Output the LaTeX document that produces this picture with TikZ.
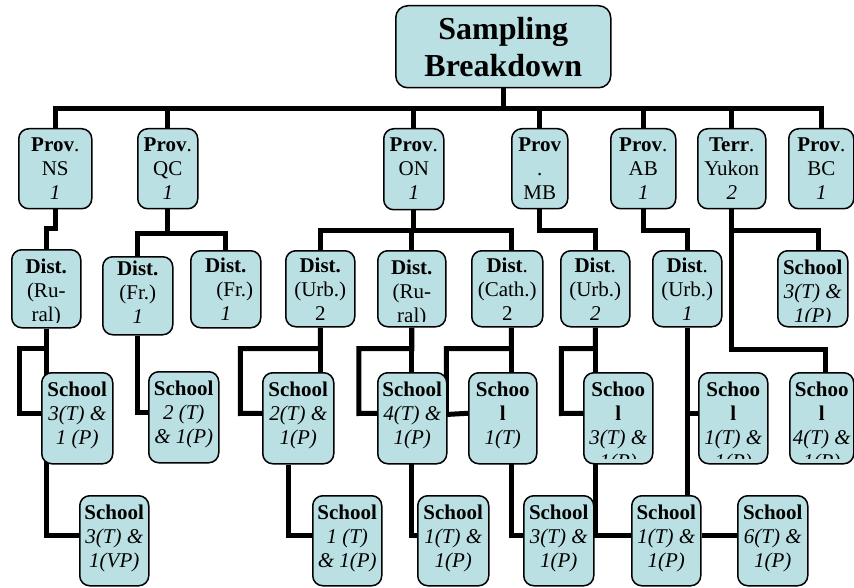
\documentclass[tikz,border=0pt]{standalone}
\usepackage{fontspec}
\setmainfont{Liberation Serif}
\usetikzlibrary{backgrounds}

\definecolor{boxfill}{RGB}{187,224,227}

\tikzset{
  link/.style={line width=5pt},
  boxtext/.style={anchor=base, inner sep=0pt, font=\fontsize{21}{24}\selectfont},
  orgbox/.style 2 args={draw, line width=1.5pt, fill=boxfill, rounded corners=10pt, inner sep=0pt,
    anchor=north west,
    path picture={
      \clip ([yshift=5pt]path picture bounding box.south west) rectangle (path picture bounding box.north east);
      \node[boxtext] at ([yshift=-#1]path picture bounding box.north)
        {\begin{tabular}[t]{@{}c@{}}#2\end{tabular}};}},
  rootbox/.style={draw, line width=1.5pt, fill=boxfill, rounded corners=12pt, inner sep=0pt,
    anchor=north west, align=center, font=\fontsize{32}{37}\selectfont\bfseries}
}

\begin{document}
\begin{tikzpicture}[x=1pt, y=-1pt]
  \useasboundingbox (0,0) rectangle (854,588);

  % top
  \node[rootbox, minimum width=215pt, minimum height=82pt] (root) at (395,5) {Sampling\\Breakdown};

  % provinces
  \node[orgbox={23pt}{\textbf{Prov}.\\NS\\\textit{1}}, minimum width=73pt, minimum height=80pt] (pNS) at (18,128) {};
  \node[orgbox={23pt}{\textbf{Prov}.\\QC\\\textit{1}}, minimum width=60pt, minimum height=80pt] (pQC) at (137,128) {};
  \node[orgbox={23pt}{\textbf{Prov}.\\ON\\\textit{1}}, minimum width=60pt, minimum height=81pt] (pON) at (383,128) {};
  \node[orgbox={23pt}{\textbf{Prov}\\.\\MB}, minimum width=56pt, minimum height=80pt] (pMB) at (511,128) {};
  \node[orgbox={23pt}{\textbf{Prov}.\\AB\\\textit{1}}, minimum width=65pt, minimum height=80pt] (pAB) at (610,128) {};
  \node[orgbox={23pt}{\textbf{Terr}.\\Yukon\\\textit{2}}, minimum width=68pt, minimum height=80pt] (pYK) at (697,128) {};
  \node[orgbox={23pt}{\textbf{Prov}.\\BC\\\textit{1}}, minimum width=65pt, minimum height=80pt] (pBC) at (788,128) {};

  % districts
  \node[orgbox={24pt}{\textbf{Dist.}\\(Ru-\\ral)}, minimum width=69pt, minimum height=78pt] (dNS) at (11,249) {};
  \node[orgbox={19pt}{\textbf{Dist.}\\(Fr.)\\\textit{1}}, minimum width=70pt, minimum height=78pt] (dQCa) at (102,256) {};
  \node[orgbox={22pt}{\textbf{Dist.}\\\hspace*{18pt}(Fr.)\\\textit{1}}, minimum width=70pt, minimum height=77pt] (dQCb) at (190,250) {};
  \node[orgbox={22pt}{\textbf{Dist.}\\(Urb.)\\2}, minimum width=69pt, minimum height=76pt] (dONa) at (285,250) {};
  \node[orgbox={24pt}{\textbf{Dist.}\\(Ru-\\ral)}, minimum width=68pt, minimum height=76pt] (dONb) at (377,250) {};
  \node[orgbox={22pt}{\textbf{Dist}.\\(Cath.)\\2}, minimum width=71pt, minimum height=76pt] (dONc) at (471,250) {};
  \node[orgbox={22pt}{\textbf{Dist}.\\(Urb.)\\\textit{2}}, minimum width=69pt, minimum height=76pt] (dMB) at (560,250) {};
  \node[orgbox={22pt}{\textbf{Dist}.\\(Urb.)\\\textit{1}}, minimum width=69pt, minimum height=76pt] (dAB) at (652,250) {};
  \node[orgbox={24pt}{\textbf{School}\\\textit{3(T) \&}\\\textit{1(P)}}, minimum width=70pt, minimum height=76pt] (sYKa) at (777,250) {};

  % schools
  \node[orgbox={24pt}{\textbf{School}\\\textit{3(T) \&}\\\textit{1 (P)}}, minimum width=71pt, minimum height=91pt] (sNS) at (41,372) {};
  \node[orgbox={24pt}{\textbf{School}\\\textit{2 (T)}\\\textit{\& 1(P)}}, minimum width=70pt, minimum height=91pt] (sQC) at (148,371) {};
  \node[orgbox={24pt}{\textbf{School}\\\textit{2(T) \&}\\\textit{1(P)}}, minimum width=71pt, minimum height=91pt] (sONa) at (262,372) {};
  \node[orgbox={24pt}{\textbf{School}\\\textit{4(T) \&}\\\textit{1(P)}}, minimum width=69pt, minimum height=91pt] (sONb) at (377,372) {};
  \node[orgbox={24pt}{\textbf{Schoo}\\\textbf{l}\\\textit{1(T)}}, minimum width=68pt, minimum height=91pt] (sONc) at (468,372) {};
  \node[orgbox={24pt}{\textbf{Schoo}\\\textbf{l}\\\textit{3(T) \&}\\\textit{1(P)}}, minimum width=69pt, minimum height=91pt] (sMB) at (583,372) {};
  \node[orgbox={24pt}{\textbf{Schoo}\\\textbf{l}\\\textit{1(T) \&}\\\textit{1(P)}}, minimum width=69pt, minimum height=91pt] (sAB) at (698,372) {};
  \node[orgbox={24pt}{\textbf{Schoo}\\\textbf{l}\\\textit{4(T) \&}\\\textit{1(P)}}, minimum width=64pt, minimum height=91pt] (sYKb) at (789,372) {};

  \node[orgbox={24pt}{\textbf{School}\\\textit{3(T) \&}\\\textit{1(VP)}}, minimum width=69pt, minimum height=90pt] (sNSb) at (79,495) {};
  \node[orgbox={24pt}{\textbf{School}\\\textit{1 (T)}\\\textit{\& 1(P)}}, minimum width=69pt, minimum height=90pt] (sONd) at (312,495) {};
  \node[orgbox={24pt}{\textbf{School}\\\textit{1(T) \&}\\\textit{1(P)}}, minimum width=71pt, minimum height=90pt] (sONe) at (417,495) {};
  \node[orgbox={24pt}{\textbf{School}\\\textit{3(T) \&}\\\textit{1(P)}}, minimum width=70pt, minimum height=90pt] (sONf) at (523,495) {};
  \node[orgbox={24pt}{\textbf{School}\\\textit{1(T) \&}\\\textit{1(P)}}, minimum width=69pt, minimum height=90pt] (sABb) at (631,495) {};
  \node[orgbox={24pt}{\textbf{School}\\\textit{6(T) \&}\\\textit{1(P)}}, minimum width=70pt, minimum height=90pt] (sABc) at (737,495) {};

  % connectors behind the boxes
  \begin{pgfonlayer}{background}
    \foreach \p in {pNS,pQC,pON,pMB,pAB,pYK,pBC}
      \draw[link] (root.south) -- ++(0,20) -| (\p.north);

    \draw[link] (pNS.south) -- ++(0,19) -| (dNS.north);
    \foreach \d in {dQCa,dQCb}
      \draw[link] (pQC.south) -- ++(0,24) -| (\d.north);
    \foreach \d in {dONa,dONb}
      \draw[link] (pON.south) -- ++(0,20) -| (\d.north);
    \draw[link] (pON.south) -- ++(0,20) -| ([xshift=4pt]dONc.north);
    \draw[link] (pMB.south) -- ++(0,21) -| (dMB.north);
    \draw[link] (pAB.south) -- ++(0,21) -| (dAB.north);
    \draw[link] (pYK.south) -- ++(0,21) -| ([xshift=6pt]sYKa.north);
    \draw[link] (pYK.south) -- ++(0,140) -| ([xshift=4pt]sYKb.north);

    \draw[link] (dNS.south) -- ++(0,20) -- ++(-27,0) |- ([yshift=5pt]sNS.west);
    \draw[link] (dNS.south) |- ([yshift=5pt]sNSb.west);
    \draw[link] (dQCa.south) |- ([yshift=5pt]sQC.west);
    \draw[link] (dONa.south) -- ++(0,21) -| ++(-80,65) -- ([yshift=5pt]sONa.west);
    \draw[link] (dONa.south) -- (dONa.south |- sONa.north);
    \draw[link] ([xshift=-10pt]sONa.south) |- ([yshift=5pt]sONd.west);
    \draw[link] (dONb.south) -- ++(0,21) -| ++(-53,65) -- ([yshift=5pt]sONb.west);
    \draw[link] (dONb.south) |- ([yshift=5pt]sONe.west);
    \draw[link] ([xshift=4pt]dONc.south) -- ++(0,21) -| ++(-65,66) -- ([yshift=5pt]sONc.west);
    \draw[link] ([xshift=4pt]dONc.south) |- ([yshift=5pt]sONf.west);
    \draw[link] (dMB.south) -- ++(0,21) -| ++(-34,65) -- ([yshift=5pt]sMB.west);
    \draw[link] (dMB.south) |- ([yshift=5pt]sABb.west);
    \draw[link] (dAB.south) |- ([yshift=5pt]sAB.west);
    \draw[link] (dAB.south) -- (dAB.south |- sABb.north);
    \draw[link] ([yshift=5pt]sABb.east) -- ([yshift=5pt]sABc.west);
  \end{pgfonlayer}
\end{tikzpicture}
\end{document}
